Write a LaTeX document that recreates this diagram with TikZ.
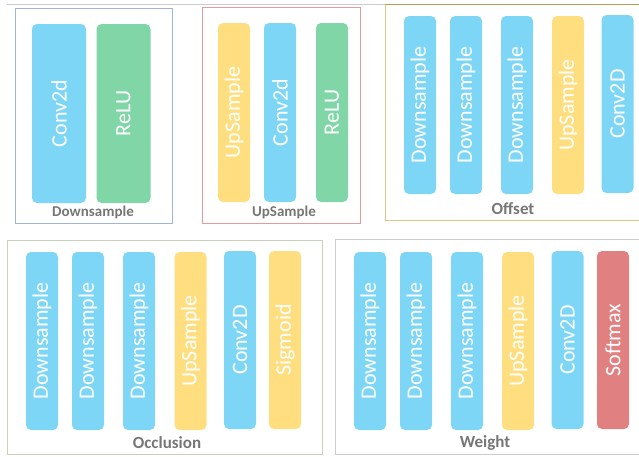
\documentclass[tikz,border=0pt]{standalone}
\usepackage{fontspec}
\setmainfont{Carlito}
\definecolor{cblue}{RGB}{126,214,247}
\definecolor{cgreen}{RGB}{128,214,166}
\definecolor{cyellow}{RGB}{255,222,128}
\definecolor{cred}{RGB}{224,128,128}
\definecolor{labelgray}{RGB}{118,118,118}
\definecolor{frameblue}{RGB}{160,180,216}
\definecolor{framered}{RGB}{226,156,156}
\definecolor{framegold}{RGB}{220,200,138}
\definecolor{framegolddark}{RGB}{184,158,80}
\definecolor{frameolive}{RGB}{200,210,186}
\definecolor{framegray}{RGB}{204,204,204}
\tikzset{
  pill/.style={rectangle, rounded corners=5pt, draw=none, text=white,
    font=\fontsize{22}{22}\selectfont, rotate=90, inner sep=0pt,
    minimum width=178pt, minimum height=32pt},
  widepill/.style={pill, minimum height=54pt, minimum width=179pt},
  grouplabel/.style={text=labelgray, font=\bfseries\fontsize{15}{15}\selectfont, inner sep=0pt},
  biglabel/.style={grouplabel, font=\bfseries\fontsize{17}{17}\selectfont},
  groupframe/.style={line width=0.9pt}
}
\begin{document}
\begin{tikzpicture}[x=1pt,y=-1pt]
\useasboundingbox (0,0) rectangle (639,456);
\clip (0,0) rectangle (639,456);

% outer top rule
\draw[framegray, line width=0.9pt] (7,4.5) -- (385,4.5);

% Downsample block
\draw[groupframe, frameblue] (15,8.5) rectangle (172,223);
\node[widepill, fill=cblue] (dsconv) at (59,113.5) {Conv2d};
\node[widepill, fill=cgreen] (dsrelu) at (123.5,113.5) {ReLU};
\node[grouplabel] (dslabel) at (93,212) {Downsample};

% UpSample block
\draw[groupframe, framered] (202,7.5) rectangle (360,223);
\node[pill, fill=cyellow, minimum width=179pt] (usup) at (234,112.5) {UpSample};
\node[pill, fill=cblue, minimum width=179pt] (usconv) at (280,112.5) {Conv2d};
\node[pill, fill=cgreen, minimum width=179pt] (usrelu) at (332,112.5) {ReLU};
\node[grouplabel] (uslabel) at (284,212) {UpSample};

% Offset block
\draw[groupframe, framegold] (385,4.5) rectangle (660,220);
\draw[groupframe, framegolddark] (385,4.5) -- (660,4.5);
\node[pill, fill=cblue] (ofd1) at (420,105) {Downsample};
\node[pill, fill=cblue] (ofd2) at (466,105) {Downsample};
\node[pill, fill=cblue] (ofd3) at (517,105) {Downsample};
\node[pill, fill=cyellow] (ofup) at (568,105) {UpSample};
\node[pill, fill=cblue] (ofconv) at (617.5,104) {Conv2D};
\node[biglabel] (oflabel) at (513,209) {Offset};

% Occlusion block
\draw[groupframe, frameolive] (7.5,240) rectangle (322,454);
\node[pill, fill=cblue] (ocd1) at (42,341) {Downsample};
\node[pill, fill=cblue] (ocd2) at (88,341) {Downsample};
\node[pill, fill=cblue] (ocd3) at (139,341) {Downsample};
\node[pill, fill=cyellow] (ocup) at (190.5,341) {UpSample};
\node[pill, fill=cblue] (occonv) at (240,340) {Conv2D};
\node[pill, fill=cyellow] (ocsig) at (285,340) {Sigmoid};
\node[biglabel] (oclabel) at (167,443) {Occlusion};

% Weight block
\draw[groupframe, framegray] (335.5,239.5) rectangle (660,454);
\node[pill, fill=cblue] (wtd1) at (370,341) {Downsample};
\node[pill, fill=cblue] (wtd2) at (416,341) {Downsample};
\node[pill, fill=cblue] (wtd3) at (467,341) {Downsample};
\node[pill, fill=cyellow] (wtup) at (518,341) {UpSample};
\node[pill, fill=cblue] (wtconv) at (567.5,340) {Conv2D};
\node[pill, fill=cred] (wtsoft) at (613,340) {Softmax};
\node[biglabel] (wtlabel) at (485,443) {Weight};
\end{tikzpicture}
\end{document}
